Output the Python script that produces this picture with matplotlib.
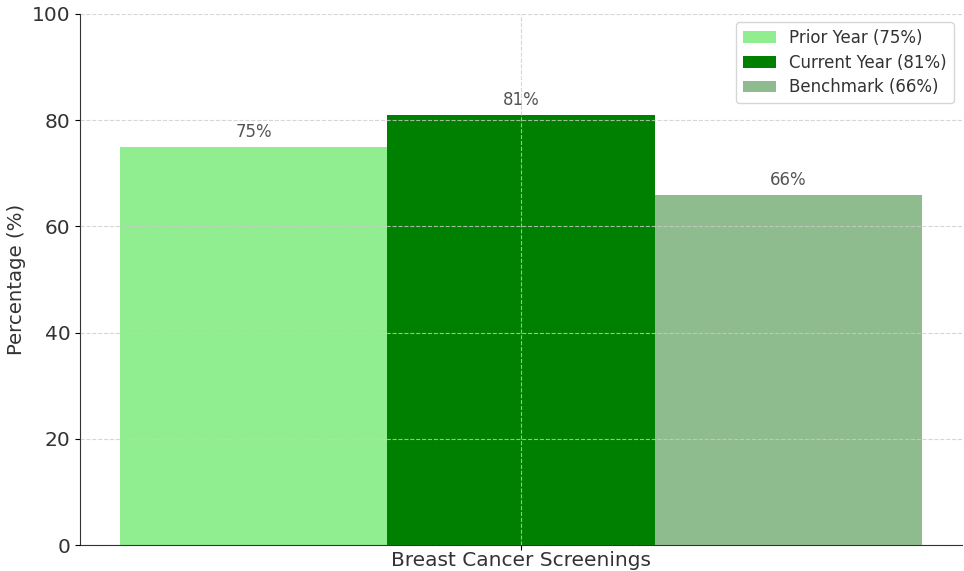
import matplotlib
matplotlib.use('Agg')
import matplotlib.pyplot as plt

category = ['Breast Cancer Screenings']
series_names = ['Prior Year (75%)', 'Current Year (81%)', 'Benchmark (66%)']
values = [75, 81, 66]
colors = ['#90EE90', '#008000', '#8FBC8F']

fig = plt.figure(figsize=(9.64, 5.71), dpi=100)
ax = fig.add_axes([0.083, 0.0455, 0.915, 0.93])

width = 0.2
offsets = [-width, 0, width]
for name, v, c, off in zip(series_names, values, colors, offsets):
    bars = ax.bar(off, v, width, color=c, label=name)
    ax.annotate('{}%'.format(v), (off, v), xytext=(0, 4), textcoords='offset points',
                ha='center', va='bottom', fontsize=12, color='#555555')

ax.set_xticks([0])
ax.set_xticklabels(category, fontsize=14.5, color='#333333')
ax.tick_params(axis='x', pad=0.5)
ax.set_ylim(0, 100)
ax.set_ylabel('Percentage (%)', fontsize=14.2, color='#333333', labelpad=4)
ax.tick_params(axis='y', labelsize=14.5, labelcolor='#333333')
ax.spines['top'].set_visible(False)
ax.spines['right'].set_visible(False)
ax.spines['left'].set_color('#333333')
ax.spines['bottom'].set_color('#333333')
ax.grid(True, linestyle='--', color='#cccccc', linewidth=0.8, alpha=0.8)
ax.set_axisbelow(False)
ax.legend(loc='upper right', fontsize=12, labelcolor='#333333', edgecolor='#cccccc',
          borderaxespad=0.5, labelspacing=0.4)

plt.savefig('out.png', dpi=100)
